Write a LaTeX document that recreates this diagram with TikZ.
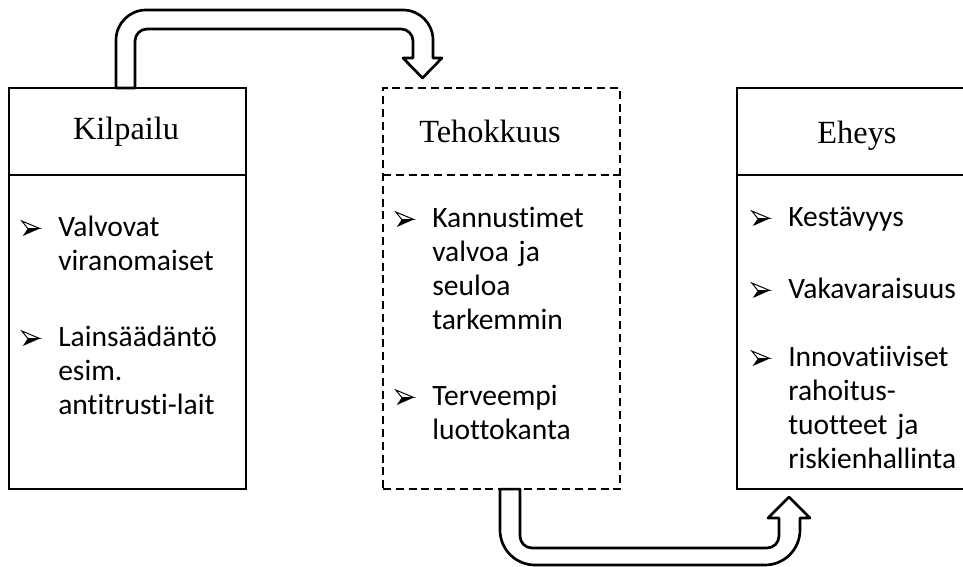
\documentclass[tikz,border=0pt]{standalone}
\usepackage{fontspec}
\setmainfont[Ligatures=NoCommon]{Carlito}
\newfontfamily\otsikkofont{Liberation Serif}

% luettelomerkki: kolmiulotteinen nuolenkarki
\newcommand{\nuoli}{\leavevmode\llap{\tikz[baseline=0pt, x=0.025cm, y=0.025cm]{
  \fill (6,7.5) -- (18,7.5) -- (1,0) -- cycle;
  \draw[line width=0.7pt, fill=white, line join=miter] (0,15) -- (18,7.5) -- (6,7.5) -- cycle;}%
  \hspace{0.45cm}}}

\tikzset{
  laatikko/.style={draw, line width=1.9pt, minimum width=5.925cm, minimum height=10.025cm,
    inner sep=0pt, outer sep=0pt, anchor=north west},
  katko/.style={dash pattern=on 0.2cm off 0.12cm},
  otsikko/.style={anchor=base, font=\otsikkofont\fontsize{23}{28}\selectfont},
  kohta/.style={anchor=base west, text width=4.7cm, align=left, inner sep=0pt,
    font=\fontsize{21}{24.2}\selectfont},
  blokki/.style={draw, fill=white, line width=1.9pt, line join=round},
}

\begin{document}
\begin{tikzpicture}[x=0.025cm, y=-0.025cm]
\useasboundingbox (0,0) rectangle (963,567);
% laatikot
\node[laatikko] (kilp) at (9,88) {};
\node[laatikko, katko] (teho) at (383,88) {};
\node[laatikko] (eheys) at (737,88) {};
\foreach \l/\tyyli in {kilp/solid, teho/katko, eheys/solid}
  \draw[line width=1.9pt, \tyyli] ([yshift=-2.175cm]\l.north west) -- ([yshift=-2.175cm]\l.north east);

% otsikot
\node[otsikko] (kilpo) at (126,139) {Kilpailu};
\node[otsikko] (tehoo) at (490,142) {Tehokkuus};
\node[otsikko] (eheyso) at (857,143) {Eheys};

% kohdat
\node[kohta] (k1) at (58,236) {\nuoli Valvovat\\viranomaiset};
\node[kohta] (k2) at (58,346) {\nuoli Lainsäädäntö\\esim.\\antitrusti-lait};
\node[kohta] (t1) at (432,227) {\nuoli Kannustimet\\valvoa ja\\seuloa\\tarkemmin};
\node[kohta] (t2) at (432,405) {\nuoli Terveempi\\luottokanta};
\node[kohta] (e1) at (788,226) {\nuoli Kestävyys};
\node[kohta] (e2) at (788,298) {\nuoli Vakavaraisuus};
\node[kohta] (e3) at (788,366) {\nuoli Innovatiiviset\\rahoitus-\\tuotteet ja\\riskienhallinta};

% nuolet
\draw[blokki] ([xshift=2.675cm]kilp.north west) -- (116,40)
  arc[start angle=180, end angle=270, radius=30] -- (403,10)
  arc[start angle=270, end angle=360, radius=30] -- (433,58) -- (442,58) -- (422.5,78)
  -- (403,58) -- (413,58) -- (413,41)
  arc[start angle=0, end angle=-90, radius=12] -- (147,29)
  arc[start angle=-90, end angle=-180, radius=12] -- ([xshift=3.15cm]kilp.north west) -- cycle;
\draw[blokki] ([xshift=2.925cm]teho.south west) -- (500,530)
  arc[start angle=180, end angle=90, radius=35] -- (765,565)
  arc[start angle=90, end angle=0, radius=35] -- (800,518) -- (810,518) -- (789,497)
  -- (768,518) -- (779,518) -- (779,536)
  arc[start angle=0, end angle=90, radius=12] -- (532,548)
  arc[start angle=90, end angle=180, radius=12] -- ([xshift=3.425cm]teho.south west) -- cycle;
\end{tikzpicture}
\end{document}
